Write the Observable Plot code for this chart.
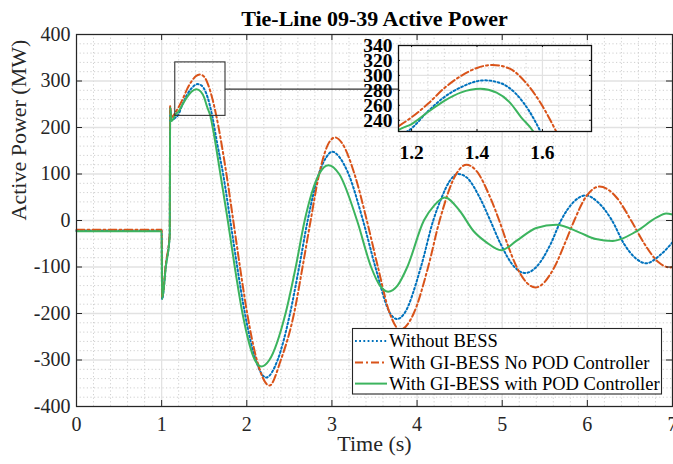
<!DOCTYPE html>
<html><head><meta charset="utf-8">
<script src="https://cdn.jsdelivr.net/npm/d3@7"></script>
<script src="https://cdn.jsdelivr.net/npm/@observablehq/plot@0.6"></script>
<style>
body{margin:0;background:#fff;}
#wrap{position:relative;width:673px;height:464px;overflow:hidden;font-family:"Liberation Serif","Times New Roman",serif;color:#262626;}
#wrap svg{position:absolute;overflow:visible;}
#title{position:absolute;left:76px;width:597px;top:7.6px;text-align:center;font-weight:bold;font-size:22px;line-height:22px;color:#000;}
</style></head><body><div id="wrap"><div id="title"></div></div>
<script>
const titleText = "Tie-Line 09-39 Active Power";
const xLabel = "Time (s)";
const yLabel = "Active Power (MW)";
const seriesNames = ["Without BESS", "With GI-BESS No POD Controller", "With GI-BESS with POD Controller"];
const seriesColors = ["#0072BD", "#D95319", "#3CB45E"];
const xTicks = [0, 1, 2, 3, 4, 5, 6, 7];
const yTicks = [-400, -300, -200, -100, 0, 100, 200, 300, 400];
const insetXTicks = [1.2, 1.4, 1.6];
const insetYTicks = [240, 260, 280, 300, 320, 340];
const zoomX = [1.16, 1.75];
const zoomY = [225, 340];

// [time (s), power (MW)]
const withoutBESS = [[0,-22],[0.5,-22],[1.0,-22],[1.005,-169],[1.05,-96],[1.095,-30],[1.1,242],[1.115,215],[1.135,217],[1.16,221],[1.19,226],[1.25,252],[1.3,271],[1.35,284],[1.422,293.4],[1.47,290],[1.52,275],[1.56,252],[1.594,225],[1.65,168],[1.722,100],[1.806,0],[1.888,-100],[1.978,-200],[2.105,-300],[2.227,-337.6],[2.362,-300],[2.508,-200],[2.615,-100],[2.715,0],[2.846,100],[2.93,135],[3.005,148],[3.08,138],[3.195,100],[3.365,0],[3.51,-100],[3.685,-200],[3.765,-212],[3.85,-200],[4.045,-100],[4.19,0],[4.29,50],[4.38,84],[4.48,100],[4.58,93],[4.734,50],[4.86,0],[4.98,-50],[5.144,-100],[5.27,-113],[5.40,-100],[5.57,-50],[5.69,0],[5.84,40],[5.98,54],[6.12,40],[6.29,0],[6.43,-50],[6.56,-80],[6.69,-92],[6.85,-75],[7.0,-47]];
const noPOD = [[0,-20],[0.5,-20],[1.0,-20],[1.005,-165],[1.05,-92],[1.095,-27],[1.1,246],[1.115,222],[1.135,225],[1.16,232],[1.2,244],[1.25,262],[1.3,283],[1.35,299],[1.4,310],[1.448,314],[1.5,309],[1.55,290],[1.6,259],[1.642,225],[1.761,100],[1.841,0],[1.92,-100],[2.005,-200],[2.118,-300],[2.266,-355],[2.40,-300],[2.555,-200],[2.655,-100],[2.75,0],[2.85,100],[2.95,162],[3.036,178.5],[3.12,166],[3.265,100],[3.41,0],[3.54,-100],[3.68,-200],[3.80,-235],[3.96,-200],[4.13,-100],[4.265,0],[4.46,100],[4.58,120],[4.70,106],[4.858,50],[4.965,0],[5.06,-50],[5.17,-100],[5.39,-144],[5.614,-100],[5.734,-50],[5.846,0],[5.98,50],[6.143,73],[6.34,50],[6.514,0],[6.67,-50],[6.837,-90],[6.97,-101],[7.0,-100]];
const withPOD = [[0,-23],[0.5,-23],[1.0,-23],[1.005,-169],[1.05,-98],[1.095,-34],[1.1,243],[1.115,214],[1.135,218],[1.16,227],[1.2,235],[1.25,251],[1.3,266],[1.35,277],[1.41,282],[1.46,277],[1.5,264],[1.535,244],[1.572,225],[1.6,200],[1.69,100],[1.777,0],[1.859,-100],[1.95,-200],[2.095,-300],[2.169,-314],[2.265,-300],[2.455,-200],[2.575,-100],[2.68,0],[2.85,100],[2.958,119],[3.085,100],[3.295,0],[3.46,-100],[3.56,-139],[3.66,-153],[3.77,-140],[3.885,-100],[4.08,0],[4.2,32],[4.326,49.5],[4.50,21],[4.66,-22],[4.815,-47],[4.99,-64],[5.166,-44],[5.40,-16],[5.635,-9],[5.91,-26],[6.10,-40],[6.30,-44],[6.57,-24],[6.81,6],[6.925,15],[7.0,13]];
const allSeries = [withoutBESS, noPOD, withPOD];
const dashes = ["1.8,2.4", "8,3,2,3", null];

// layout
const W = 673, H = 464;
const M = {left: 76, right: 1, top: 34, bottom: 58};
const plotW = W - M.left - M.right, plotH = H - M.top - M.bottom;
const tickPx = 6;
const tx = tickPx * (7 - 0) / plotW, ty = tickPx * 800 / plotH;
const gridMajor = "#e2e2e2", gridMinor = "#cfcfcf";
const serif = "Liberation Serif";
const hyphenFormat = d => String(d);

const xMinor = d3.range(0, 7.0001, 0.2).filter(v => Math.abs(v - Math.round(v)) > 1e-6);
const yMinor = d3.range(-400, 400.001, 20).filter(v => v % 100 !== 0);

function lineMarks(opts) {
  return allSeries.map((s, i) => Plot.line(s, {x: d => d[0], y: d => d[1], stroke: seriesColors[i], strokeWidth: 2, strokeDasharray: dashes[i], curve: "monotone-x", ...opts}));
}

// inset geometry
const inset = {left: 356, top: 35, width: 239, height: 129, ml: 42, mr: 4, mt: 10, mb: 33};
const insetPlotLeftPx = inset.left + inset.ml;
const connectorX = (insetPlotLeftPx - M.left) / plotW * 7;
const connectorY = (zoomY[0] + zoomY[1]) / 2;

const main = Plot.plot({
  width: W, height: H,
  marginLeft: M.left, marginRight: M.right, marginTop: M.top, marginBottom: M.bottom,
  x: {domain: [0, 7]}, y: {domain: [-400, 400]},
  style: {fontFamily: serif, fontSize: "20px", color: "#262626", background: "transparent"},
  marks: [
    Plot.frame({fill: "white", stroke: "none"}),
    Plot.ruleX(xMinor, {stroke: gridMinor, strokeDasharray: "1.2,2.4", strokeWidth: 1}),
    Plot.ruleY(yMinor, {stroke: gridMinor, strokeDasharray: "1.2,2.4", strokeWidth: 1}),
    Plot.ruleX(xTicks, {stroke: gridMajor, strokeWidth: 1.3}),
    Plot.ruleY(yTicks, {stroke: gridMajor, strokeWidth: 1.3}),
    ...lineMarks({}),
    Plot.rect([0], {x1: zoomX[0], x2: zoomX[1], y1: zoomY[0], y2: zoomY[1], stroke: "#333", strokeWidth: 1.1, fill: "none"}),
    Plot.line([[zoomX[1], connectorY], [connectorX, connectorY]], {x: d => d[0], y: d => d[1], stroke: "#333", strokeWidth: 1.1}),
    Plot.frame({stroke: "#262626", strokeWidth: 1.2}),
    Plot.ruleX(xTicks, {y1: -400, y2: -400 + ty, stroke: "#262626"}),
    Plot.ruleX(xTicks, {y1: 400 - ty, y2: 400, stroke: "#262626"}),
    Plot.ruleY(yTicks, {x1: 0, x2: tx, stroke: "#262626"}),
    Plot.ruleY(yTicks, {x1: 7 - tx, x2: 7, stroke: "#262626"}),
    Plot.axisX(xTicks, {tickSize: 0, tickPadding: 10.4, fontSize: 20, fontFamily: serif, label: null, tickFormat: hyphenFormat}),
    Plot.axisY(yTicks, {tickSize: 0, tickPadding: 6, fontSize: 20, fontFamily: serif, label: null, tickFormat: hyphenFormat}),
    Plot.text([yLabel], {frameAnchor: "left", dx: -58, rotate: -90, fontSize: 22, fontFamily: serif, fill: "#262626"}),
    Plot.text([xLabel], {frameAnchor: "bottom", dy: 44, fontSize: 22, fontFamily: serif, fill: "#262626"})
  ]
});
main.style.left = "0px"; main.style.top = "0px";
const wrap = document.getElementById("wrap");
wrap.appendChild(main);
document.getElementById("title").textContent = titleText;

// inset
const ipw = inset.width - inset.ml - inset.mr, iph = inset.height - inset.mt - inset.mb;
const itx = 2 * (zoomX[1] - zoomX[0]) / ipw, ity = 2 * (zoomY[1] - zoomY[0]) / iph;
const ixMinor = d3.range(1.15, 1.7501, 0.05).filter(v => v >= zoomX[0] && !insetXTicks.some(t => Math.abs(t - v) < 1e-6));
const iyMinor = d3.range(230, 340.001, 10).filter(v => !insetYTicks.includes(Math.round(v)));
const insetPlot = Plot.plot({
  width: inset.width, height: inset.height,
  marginLeft: inset.ml, marginRight: inset.mr, marginTop: inset.mt, marginBottom: inset.mb,
  x: {domain: zoomX}, y: {domain: zoomY},
  style: {fontFamily: serif, fontSize: "19px", color: "#000", background: "transparent"},
  marks: [
    Plot.frame({fill: "white", stroke: "none"}),
    Plot.ruleX(ixMinor, {stroke: gridMinor, strokeDasharray: "1.2,2.4"}),
    Plot.ruleY(iyMinor, {stroke: gridMinor, strokeDasharray: "1.2,2.4"}),
    Plot.ruleX(insetXTicks, {stroke: gridMajor, strokeWidth: 1.2}),
    Plot.ruleY(insetYTicks, {stroke: gridMajor, strokeWidth: 1.2}),
    ...lineMarks({clip: true}),
    Plot.frame({stroke: "#111", strokeWidth: 1.3}),
    Plot.ruleX(insetXTicks, {y1: zoomY[0], y2: zoomY[0] + ity, stroke: "#111"}),
    Plot.ruleX(insetXTicks, {y1: zoomY[1] - ity, y2: zoomY[1], stroke: "#111"}),
    Plot.ruleY(insetYTicks, {x1: zoomX[0], x2: zoomX[0] + itx, stroke: "#111"}),
    Plot.ruleY(insetYTicks, {x1: zoomX[1] - itx, x2: zoomX[1], stroke: "#111"}),
    Plot.axisX(insetXTicks, {tickSize: 0, tickPadding: 13.8, fontSize: 19.5, fontWeight: "bold", fontFamily: serif, label: null, tickFormat: d3.format(".1f")}),
    Plot.axisY(insetYTicks, {tickSize: 0, tickPadding: 6, fontSize: 19.5, fontWeight: "bold", fontFamily: serif, label: null, tickFormat: hyphenFormat})
  ]
});
insetPlot.style.left = inset.left + "px"; insetPlot.style.top = inset.top + "px";
wrap.appendChild(insetPlot);

// legend
const leg = {left: 352, top: 327.7, width: 310, height: 66.5};
const lsvg = d3.select(wrap).append("svg")
  .attr("width", leg.width).attr("height", leg.height)
  .style("left", leg.left + "px").style("top", leg.top + "px");
lsvg.append("rect").attr("x", 0.5).attr("y", 0.5).attr("width", leg.width - 1).attr("height", leg.height - 1)
  .attr("fill", "white").attr("stroke", "#262626").attr("stroke-width", 1.1);
const rowY = [13, 34.6, 55.6];
seriesNames.forEach((name, i) => {
  lsvg.append("line").attr("x1", 3).attr("x2", 35).attr("y1", rowY[i]).attr("y2", rowY[i])
    .attr("stroke", seriesColors[i]).attr("stroke-width", 2).attr("stroke-dasharray", dashes[i]);
  lsvg.append("text").attr("x", 37).attr("y", rowY[i] + 6.2).text(name)
    .style("font-family", serif).attr("font-size", 18.5).attr("fill", "#000");
});
</script></body></html>
